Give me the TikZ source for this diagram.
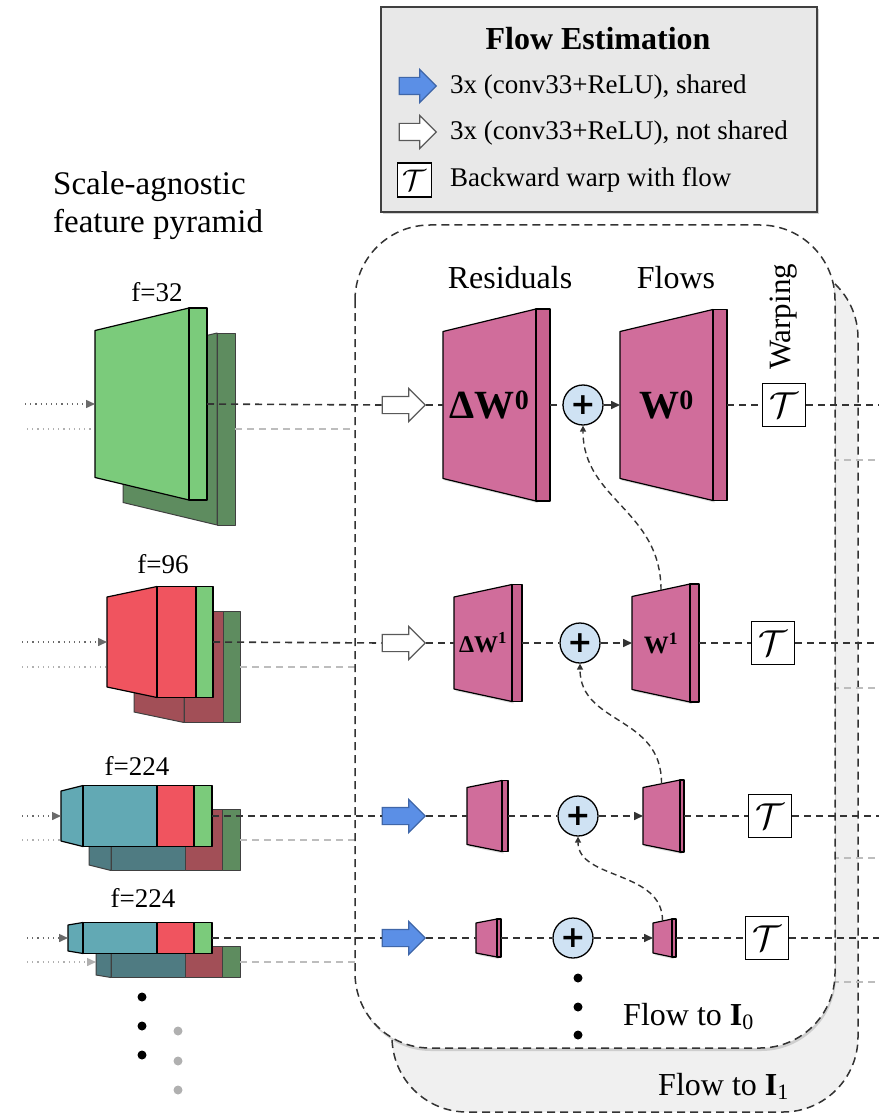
\documentclass[tikz,border=0pt]{standalone}
\usepackage{fontspec}
\setmainfont{Liberation Serif}
\newfontfamily\symfont{DejaVu Sans}
\usetikzlibrary{shapes.arrows,shadows,arrows.meta}
\definecolor{gL}{HTML}{7BCB7B}
\definecolor{gD}{HTML}{5E8C5F}
\definecolor{rL}{HTML}{F0545F}
\definecolor{rD}{HTML}{A24F57}
\definecolor{tL}{HTML}{62A9B4}
\definecolor{tD}{HTML}{4F7B82}
\definecolor{pinkC}{HTML}{D06D9B}
\definecolor{pinkS}{HTML}{C9628F}
\definecolor{blueA}{HTML}{5B8FE6}
\definecolor{blueB}{HTML}{3F66A8}
\definecolor{plusC}{HTML}{CFE2F3}
\definecolor{legC}{HTML}{E8E8E8}
\definecolor{backC}{HTML}{F0F0F0}
\definecolor{lineC}{HTML}{333333}
\definecolor{ghostC}{HTML}{BDBDBD}
\definecolor{dotC}{HTML}{6A6A6A}
\definecolor{dotG}{HTML}{B0B0B0}
\newcommand\seg[7][blk]{\filldraw[#1,fill=#7] (#2,#4-#5) -- (#3,#4-#6) -- (#3,#4+#6) -- (#2,#4+#5) -- cycle;}
\newcommand\pblock[8]{%
  \filldraw[blk,fill=pinkC,drop shadow={opacity=0.25,shadow xshift=1.5pt,shadow yshift=-2pt}] (#3,#2-#6) -- (#4,#2-#7) -- (#4,#2+#7) -- (#3,#2+#6) -- cycle;
  \filldraw[blk,fill=pinkS] (#4,#2-#7) rectangle (#5,#2+#7);
  \coordinate (#1-w) at (#3,#2);
  \coordinate (#1-e) at (#5,#2);
  \coordinate (#1-n) at ({(#3+#4)/2},{#2-(#6+#7)/2});
  \node[inner sep=0pt] (#1) at ({(#3+#4)/2},#2) {#8};
}
\newcommand\warpT[1]{\scalebox{#1}{$\mathcal{T}$}}
\begin{document}
\begin{tikzpicture}[x=1pt,y=-1pt,
  blk/.style={draw=black,line width=1.2pt,line join=round},
  bblk/.style={draw=black!75,line width=1pt,line join=round},
  mainl/.style={draw=lineC,line width=1.6pt,dash pattern=on 7pt off 5pt},
  ghost/.style={draw=ghostC,line width=1.8pt,dash pattern=on 7pt off 5pt},
  dotl/.style={draw=dotC,line width=1.5pt,dash pattern=on 1.2pt off 4pt,-{Triangle[length=9pt,width=8pt]}},
  dotg/.style={draw=dotG,line width=1.5pt,dash pattern=on 1.2pt off 4pt,-{Triangle[length=9pt,width=8pt]}},
  fbk/.style={draw=lineC,line width=1.4pt,dash pattern=on 6pt off 4pt,-{Triangle[length=6pt,width=6pt]}},
  arr/.style={single arrow,line width=1.2pt,minimum height=43pt,minimum width=32pt,single arrow head extend=8pt,inner xsep=0pt,inner ysep=8pt},
  harrow/.style={arr,draw=black!65,fill=white},
  barrow/.style={arr,draw=blueB,fill=blueA},
  plus/.style={circle,draw=black,fill=plusC,line width=1.3pt,minimum size=40pt,inner sep=0pt,font=\fontsize{30}{30}\selectfont\symfont\bfseries},
  tbox/.style={draw=black,fill=white,line width=1.3pt,minimum size=43pt,inner sep=0pt,font=\fontsize{24.88}{26}\selectfont},
  lab/.style={font=\fontsize{32}{38}\selectfont,inner sep=0pt,anchor=base},
  flab/.style={font=\fontsize{27}{30}\selectfont,inner sep=0pt,anchor=base},
  legt/.style={font=\fontsize{27}{30}\selectfont,inner sep=0pt,anchor=base west},
  bdot/.style={circle,fill=black,inner sep=0pt,minimum size=9pt},
  gdot/.style={circle,fill=dotG,inner sep=0pt,minimum size=9pt},
  boxl/.style={line width=1.5pt,dash pattern=on 8pt off 5pt,draw=lineC}
]
\useasboundingbox (0,0) rectangle (879,1115);

% ---------- back (Flow to I1) box ----------
\filldraw[boxl,fill=backC,rounded corners=75pt] (392,263) rectangle (858,1112);
% ghost lines on the right
\draw[ghost] (820,460) -- (879,460);
\draw[ghost] (820,688) -- (879,688);
\draw[ghost] (820,858) -- (879,858);
\draw[ghost] (820,982) -- (879,982);

% ---------- feature pyramid ----------
\coordinate (p0-w) at (95,404);  \coordinate (p0-e) at (207,404);
\coordinate (q0-w) at (123,429); \coordinate (q0-e) at (235,429);
\coordinate (p1-w) at (107,642);  \coordinate (p1-e) at (213,642);
\coordinate (q1-w) at (134,667); \coordinate (q1-e) at (240,667);
\coordinate (p2-w) at (61,816);  \coordinate (p2-e) at (212,816);
\coordinate (q2-w) at (89,840); \coordinate (q2-e) at (240,840);
\coordinate (p3-w) at (68,938);  \coordinate (p3-e) at (212,938);
\coordinate (q3-w) at (96,962); \coordinate (q3-e) at (240,962);
% incoming dotted lines (behind the blocks)
\coordinate (i0) at (25,404);  \coordinate (j0) at (27,429);
\coordinate (i1) at (22,642);  \coordinate (j1) at (22,667);
\coordinate (i2) at (22,816);  \coordinate (j2) at (22,840);
\coordinate (i3) at (27,938);  \coordinate (j3) at (27,962);
\draw[dotg] (j0) -- (q0-w);
\draw[dotg] (j1) -- (q1-w);
\draw[dotg] (j2) -- (q2-w);
\draw[dotg] (j3) -- (q3-w);

% row 0
\seg[bblk]{123}{217}{429}{73.5}{96}{gD}
\seg[bblk]{217}{235}{429}{96}{96}{gD}
\seg{95}{189}{404}{73.5}{96}{gL}
\seg{189}{207}{404}{96}{96}{gL}
% row 1
\seg[bblk]{134}{184}{667}{45}{55.5}{rD}
\seg[bblk]{184}{223}{667}{55.5}{55.5}{rD}
\seg[bblk]{223}{240}{667}{55.5}{55.5}{gD}
\seg{107}{157}{642}{45}{55.5}{rL}
\seg{157}{196}{642}{55.5}{55.5}{rL}
\seg{196}{213}{642}{55.5}{55.5}{gL}
% row 2
\seg[bblk]{89}{111}{840}{25}{30.5}{tD}
\seg[bblk]{111}{185}{840}{30.5}{30.5}{tD}
\seg[bblk]{185}{222}{840}{30.5}{30.5}{rD}
\seg[bblk]{222}{240}{840}{30.5}{30.5}{gD}
\seg{61}{83}{816}{25}{30.5}{tL}
\seg{83}{157}{816}{30.5}{30.5}{tL}
\seg{157}{194}{816}{30.5}{30.5}{rL}
\seg{194}{212}{816}{30.5}{30.5}{gL}
% row 3
\seg[bblk]{96}{111}{962}{13}{15.5}{tD}
\seg[bblk]{111}{185}{962}{15.5}{15.5}{tD}
\seg[bblk]{185}{222}{962}{15.5}{15.5}{rD}
\seg[bblk]{222}{240}{962}{15.5}{15.5}{gD}
\seg{68}{83}{938}{13}{15.5}{tL}
\seg{83}{157}{938}{15.5}{15.5}{tL}
\seg{157}{194}{938}{15.5}{15.5}{rL}
\seg{194}{212}{938}{15.5}{15.5}{gL}

\draw[dotl] (i0) -- (p0-w);
\draw[dotl] (i1) -- (p1-w);
\draw[dotl] (i2) -- (p2-w);
\draw[dotl] (i3) -- (p3-w);
% ghost dashed to the back box
\coordinate (g0) at (360,429); \coordinate (g1) at (360,667);
\coordinate (g2) at (360,840); \coordinate (g3) at (360,962);
\draw[ghost] (q0-e) -- (g0);
\draw[ghost] (q1-e) -- (g1);
\draw[ghost] (q2-e) -- (g2);
\draw[ghost] (q3-e) -- (g3);

% pyramid labels
\node[lab,font=\fontsize{33}{38}\selectfont,anchor=base west] (sa1) at (53,195) {Scale-agnostic};
\node[lab,font=\fontsize{33}{38}\selectfont,anchor=base west] (sa2) at (53,233) {feature pyramid};
\node[flab] (f32) at (157,301) {f=32};
\node[flab] (f96) at (163,573) {f=96};
\node[flab] (f224a) at (137,775) {f=224};
\node[flab] (f224b) at (143,907) {f=224};
\node[bdot] (bd1) at (142,997) {};
\node[bdot] (bd2) at (142,1026) {};
\node[bdot] (bd3) at (142,1055) {};
\node[gdot] (gd1) at (178,1031) {};
\node[gdot] (gd2) at (178,1061) {};
\node[gdot] (gd3) at (178,1090) {};

% ---------- front (Flow to I0) box ----------
\filldraw[boxl,fill=white,rounded corners=75pt,drop shadow={opacity=0.3,shadow xshift=1pt,shadow yshift=-3pt}] (355,225) rectangle (835,1048);

% column labels
\node[lab] (resl) at (510,288) {Residuals};
\node[lab] (flol) at (676,288) {Flows};
\node[lab,rotate=90,font=\fontsize{31}{36}\selectfont] (warl) at (790,317) {Warping};

% arrows
\node[harrow] (a0) at (399.5,405) {};
\node[harrow] (a1) at (399.5,643) {};
\node[barrow] (a2) at (399.5,816) {};
\node[barrow] (a3) at (399.5,938) {};

% residual and flow blocks
\pblock{r0}{405}{443}{536}{550}{73.5}{96}{\fontsize{40}{40}\selectfont\bfseries ΔW\textsuperscript{0}}
\pblock{f0}{405}{620}{713}{727}{73.5}{95.5}{\fontsize{40}{40}\selectfont\bfseries W\textsuperscript{0}}
\pblock{r1}{643}{454}{512}{522}{46}{58.5}{\fontsize{24}{24}\selectfont\bfseries ΔW\textsuperscript{1}}
\pblock{f1}{643}{632}{690}{699}{46.5}{59}{\fontsize{25}{25}\selectfont\bfseries W\textsuperscript{1}}
\pblock{r2}{816}{467}{502}{508}{28.5}{35.5}{}
\pblock{f2}{816}{643}{680}{684}{28.5}{36}{}
\pblock{r3}{938}{476}{497}{501}{15}{19}{}
\pblock{f3}{938}{653}{672}{676}{15}{19}{}

% sums
\node[plus] (s0) at (583,405) {+};
\node[plus] (s1) at (580,643) {+};
\node[plus] (s2) at (578,816) {+};
\node[plus] (s3) at (573,938) {+};

% warps
\node[tbox] (t0) at (784,405) {\warpT{1.45}};
\node[tbox] (t1) at (773,643) {\warpT{1.45}};
\node[tbox] (t2) at (770,816) {\warpT{1.45}};
\node[tbox] (t3) at (767,938) {\warpT{1.45}};
\coordinate (e0) at (879,405);
\coordinate (e1) at (879,643);
\coordinate (e2) at (879,816);
\coordinate (e3) at (879,938);

% main dashed connections
\foreach \i in {0,1,2,3}{
  \draw[mainl] (p\i-e) -- (a\i.tail);
  \draw[mainl] (a\i.tip) -- (r\i-w);
  \draw[mainl] (r\i-e) -- (s\i);
  \draw[mainl,-{Triangle[length=9pt,width=8pt]}] (s\i) -- (f\i-w);
  \draw[mainl] (f\i-e) -- (t\i);
  \draw[mainl] (t\i) -- (e\i);
}
% upsampled flow feedback
\draw[fbk] (f1-n) .. controls (661,510) and (583,500) .. (s0.south);
\draw[fbk] (f2-n) .. controls (662,715) and (580,725) .. (s1.south);
\draw[fbk] (f3-n) .. controls (663,870) and (578,880) .. (s2.south);

% dots below the last sum
\node[bdot] (md1) at (578,978) {};
\node[bdot] (md2) at (578,1007) {};
\node[bdot] (md3) at (578,1035) {};

\node[lab,anchor=base west] (fl0) at (623,1025) {Flow to \textbf{I}\raisebox{-0.3ex}{\fontsize{22}{22}\selectfont 0}};
\node[lab,anchor=base west] (fl1) at (658,1095) {Flow to \textbf{I}\raisebox{-0.3ex}{\fontsize{22}{22}\selectfont 1}};

% ---------- legend ----------
\filldraw[draw=black!75,fill=legC,line width=1.5pt,drop shadow={opacity=0.35,shadow xshift=1.5pt,shadow yshift=-2.5pt}] (381,7) rectangle (817,212);
\node[lab,font=\fontsize{32}{38}\selectfont\bfseries] (legh) at (598,50) {Flow Estimation};
\node[barrow,minimum height=37pt] (lA) at (413.5,86) {};
\node[harrow,minimum height=37pt] (lB) at (413.5,132) {};
\node[tbox,minimum size=34pt] (lT) at (414.5,180) {\warpT{1.2}};
\node[legt] (lAt) at (450,94) {3x (conv33+ReLU), shared};
\node[legt] (lBt) at (450,140) {3x (conv33+ReLU), not shared};
\node[legt] (lTt) at (450,187) {Backward warp with flow};
\end{tikzpicture}
\end{document}
